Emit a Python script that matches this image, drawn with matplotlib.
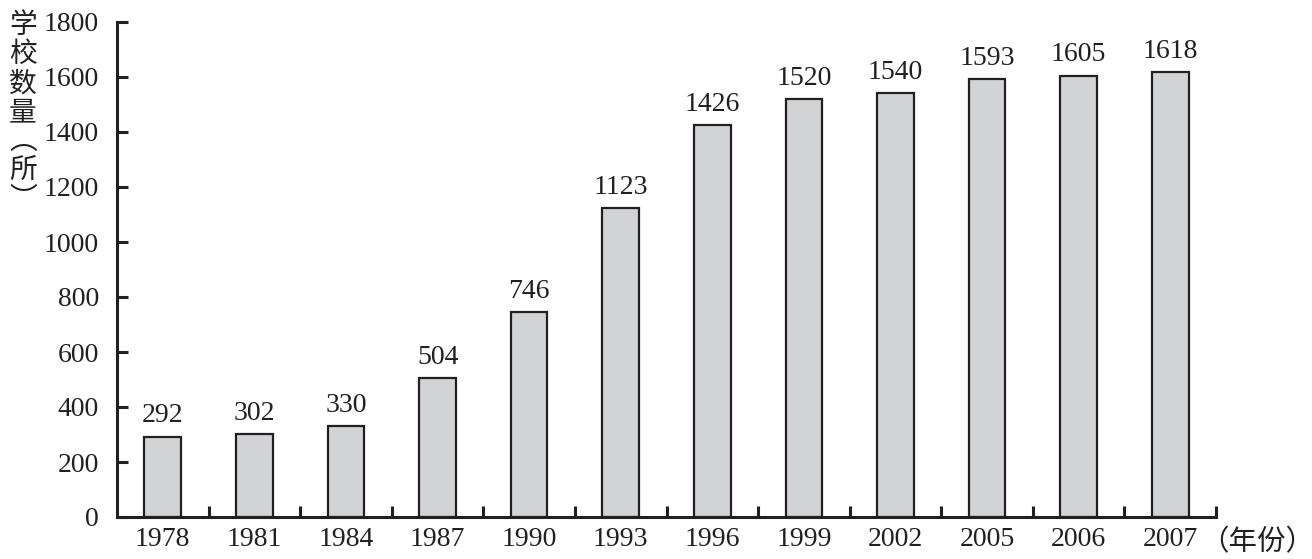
import matplotlib.pyplot as plt
import numpy as np

years = ['1978', '1981', '1984', '1987', '1990', '1993', '1996', '1999', '2002', '2005', '2006', '2007']
schools = [292, 302, 330, 504, 746, 1123, 1426, 1520, 1540, 1593, 1605, 1618]

plt.rcParams['font.family'] = ['Liberation Serif', 'Noto Sans CJK SC', 'DejaVu Sans']

fig = plt.figure(figsize=(13.12, 5.59), dpi=100)
ax = fig.add_axes([117 / 1312, 1 - 517 / 559, (1216 - 117) / 1312, (517 - 22) / 559])

x = np.arange(len(years))
ax.bar(x, schools, width=0.40, color='#d1d3d4', edgecolor='#231f20', linewidth=1.6)

# value labels over bars
for xi, v in zip(x, schools):
    ax.text(xi, v + 30, str(v), ha='center', va='bottom', fontsize=20, color='#231f20')

ax.set_xlim(-0.5, len(years) - 0.5)
ax.set_ylim(0, 1800)
ax.set_yticks(range(0, 1801, 200))

# category labels at centres, tick marks at boundaries
ax.set_xticks(x)
ax.set_xticklabels(years)
ax.set_xticks(np.arange(0.5, len(years), 1), minor=True)
ax.tick_params(axis='x', which='major', length=0, pad=7, labelsize=20, labelcolor='#231f20')
ax.tick_params(axis='x', which='minor', direction='in', length=8, width=2.2, color='#231f20')
ax.tick_params(axis='y', direction='in', length=8, width=2.2, pad=13, labelsize=20,
               color='#231f20', labelcolor='#231f20')

for s in ['top', 'right']:
    ax.spines[s].set_visible(False)
for s in ['left', 'bottom']:
    ax.spines[s].set_linewidth(2.2)
    ax.spines[s].set_color('#231f20')

# vertical y label
ylab = '\n'.join(['学', '校', '数', '量', '︵', '所', '︶'])
fig.text(23 / 1312, 1 - 112 / 559, ylab, ha='center', va='center', fontsize=20,
         family=['Noto Sans CJK SC', 'DejaVu Sans'], linespacing=0.95, color='#231f20')

fig.text(1200 / 1312, 1 - 542 / 559, '（年份）', ha='left', va='center', fontsize=20.5,
         family=['Noto Sans CJK SC', 'DejaVu Sans'], color='#231f20')

fig.savefig('out.png', dpi=100)
